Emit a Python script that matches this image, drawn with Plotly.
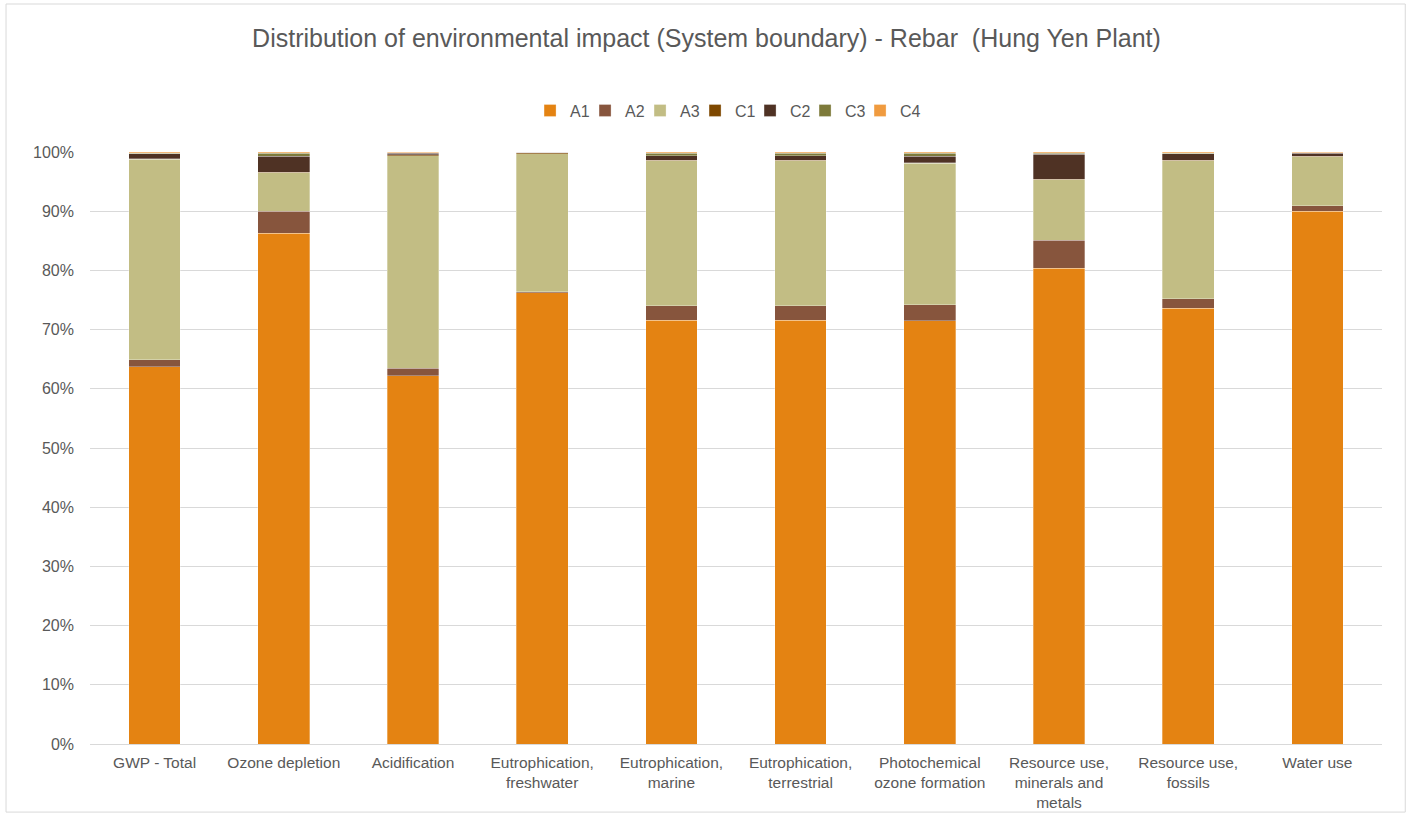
import plotly.graph_objects as go

categories = ["GWP - Total", "Ozone depletion", "Acidification", "Eutrophication,<br>freshwater",
              "Eutrophication,<br>marine", "Eutrophication,<br>terrestrial", "Photochemical<br>ozone formation",
              "Resource use,<br>minerals and<br>metals", "Resource use,<br>fossils", "Water use"]

A1 = [63.7, 86.3, 62.2, 76.2, 71.6, 71.6, 71.5, 80.4, 73.6, 90.0]
A2 = [1.2, 3.7, 1.3, 0.2, 2.4, 2.4, 2.7, 4.7, 1.6, 0.9]
A3 = [33.9, 6.5, 35.9, 23.3, 24.5, 24.5, 23.9, 10.2, 23.3, 8.3]
C1 = [0.1, 0.1, 0.1, 0.2, 0.1, 0.1, 0.1, 0.1, 0.1, 0.1]
C2 = [0.8, 2.7, 0.3, 0.05, 0.8, 0.8, 1.1, 4.2, 1.1, 0.5]
C3 = [0.1, 0.5, 0.05, 0.02, 0.4, 0.4, 0.5, 0.2, 0.1, 0.1]
C4 = [0.2, 0.2, 0.15, 0.03, 0.2, 0.2, 0.2, 0.2, 0.2, 0.1]

series = [("A1", A1, "#E48312"), ("A2", A2, "#87553D"), ("A3", A3, "#C2BD84"),
          ("C1", C1, "#7E4800"), ("C2", C2, "#4F3224"), ("C3", C3, "#7D7A3A"),
          ("C4", C4, "#F09B3F")]

fig = go.Figure()
for i, (name, vals, col) in enumerate(series):
    fig.add_trace(go.Bar(x=categories, y=[v / 100 for v in vals], name=name,
                         legendwidth=(26 if i == len(series) - 1 else 10),
                         marker=dict(color=col, line=dict(color="rgba(255,255,255,0.6)", width=0.5))))

fig.update_layout(
    barmode="stack", bargap=0.6,
    width=1413, height=817,
    margin=dict(l=90, r=31, t=152, b=73, autoexpand=False),
    paper_bgcolor="white", plot_bgcolor="white",
    font=dict(family="Liberation Sans, Arial, sans-serif", size=16, color="#595959"),
    title=dict(text="Distribution of environmental impact (System boundary) - Rebar  (Hung Yen Plant)",
               x=0.5, xanchor="center", y=0.953, yanchor="middle",
               font=dict(size=25, color="#595959")),
    legend=dict(orientation="h", x=0.3406, xanchor="left", y=1.07, yanchor="middle",
                font=dict(size=16, color="#595959"), traceorder="normal", itemwidth=30,
                entrywidthmode="pixels"),
    yaxis=dict(range=[0, 1], tickformat=".0%", dtick=0.1, gridcolor="#D9D9D9", gridwidth=1,
               zeroline=False, showline=False, ticks="", ticklabelstandoff=15,
               tickfont=dict(size=16), automargin=False),
    xaxis=dict(showline=True, linecolor="#D9D9D9", ticks="", tickangle=0, ticklabelstandoff=4,
               tickfont=dict(size=15.5), automargin=False),
    shapes=[dict(type="rect", xref="paper", yref="paper", x0=-0.065, x1=1.018, y0=-0.115, y1=1.25,
                 line=dict(color="#D9D9D9", width=1), fillcolor="rgba(0,0,0,0)")],
)

fig.write_html("out.html")
